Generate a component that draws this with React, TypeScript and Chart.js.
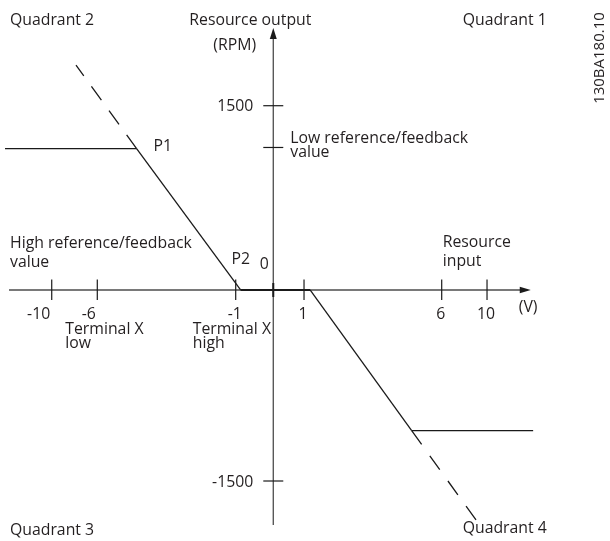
import React, { useEffect, useRef } from 'react';
import { Chart, registerables, LinearScale } from 'chart.js';

// ---- data (schematic units: volts on x, RPM on y) ----
const xTickValues = [-10, -6, -1, 1, 6, 10];
const xTickLabels = ['-10', '-6', '-1', '1', '6', '10'];
const yTickValues = [1500, -1500];
const yTickLabels = ['1500', '-1500'];
const lowRefValue = 1160;
const xAxisRange = [-13.75, 13.86];
const yAxisRange = [-1846, 2132];

const q2ClampX = [-14.1, -4.58];
const q2ClampY = [1150, 1150];
const slope2X = [-4.58, -0.87];
const slope2Y = [1150, 0];
const deadX = [-0.87, 1.22];
const deadY = [0, 0];
const slope4X = [1.22, 4.91];
const slope4Y = [0, -1105];
const q4ClampX = [4.91, 14.07];
const q4ClampY = [-1105, -1105];
const extUpX = [-4.58, -7.87];
const extUpY = [1150, 1831];
const extDownX = [4.91, 9.03];
const extDownY = [-1105, -1806];

const toPoints = (xs: number[], ys: number[]) => xs.map((x, i) => ({ x, y: ys[i] }));

// ---- piecewise linear (schematic) scale ----
class PiecewiseScale extends LinearScale {
  static id = 'piecewise';
  static defaults = {};
  knots(): number[][] {
    return (this.options as any).knots;
  }
  toDecimal(v: number): number {
    const k = this.knots();
    let i = 0;
    if (v <= k[0][0]) i = 0;
    else if (v >= k[k.length - 1][0]) i = k.length - 2;
    else {
      while (i < k.length - 2 && v > k[i + 1][0]) i++;
    }
    const [v0, d0] = k[i];
    const [v1, d1] = k[i + 1];
    return d0 + ((v - v0) / (v1 - v0)) * (d1 - d0);
  }
  fromDecimal(d: number): number {
    const k = this.knots();
    let i = 0;
    if (d <= k[0][1]) i = 0;
    else if (d >= k[k.length - 1][1]) i = k.length - 2;
    else {
      while (i < k.length - 2 && d > k[i + 1][1]) i++;
    }
    const [v0, d0] = k[i];
    const [v1, d1] = k[i + 1];
    return v0 + ((d - d0) / (d1 - d0)) * (v1 - v0);
  }
  getPixelForValue(value: number) {
    return this.getPixelForDecimal(this.toDecimal(value));
  }
  getValueForPixel(pixel: number) {
    return this.fromDecimal(this.getDecimalForPixel(pixel));
  }
}

Chart.register(...registerables, PiecewiseScale as any);

const FONT = '15.8px "Open Sans", "Noto Sans", sans-serif';
const TEXT = '#231f20';
const AXIS = '#4d4d4d';
const LINE = '#1a1a1a';

const diagramPlugin = {
  id: 'diagram',
  beforeDatasetsDraw(chart: any) {
    const { ctx, scales } = chart;
    const X = (v: number) => scales.x.getPixelForValue(v);
    const Y = (v: number) => scales.y.getPixelForValue(v);
    const ox = X(0);
    const oy = Y(0);
    ctx.save();
    ctx.strokeStyle = AXIS;
    ctx.fillStyle = LINE;
    ctx.lineWidth = 1.3;
    // x axis
    const xEnd = X(xAxisRange[1]);
    ctx.beginPath();
    ctx.moveTo(X(xAxisRange[0]), oy);
    ctx.lineTo(xEnd - 8, oy);
    ctx.stroke();
    ctx.beginPath();
    ctx.moveTo(xEnd, oy);
    ctx.lineTo(xEnd - 11, oy - 3.2);
    ctx.lineTo(xEnd - 11, oy + 3.2);
    ctx.closePath();
    ctx.fill();
    // y axis
    const yEnd = Y(yAxisRange[1]);
    ctx.beginPath();
    ctx.moveTo(ox, Y(yAxisRange[0]));
    ctx.lineTo(ox, yEnd + 8);
    ctx.stroke();
    ctx.beginPath();
    ctx.moveTo(ox, yEnd);
    ctx.lineTo(ox - 3.5, yEnd + 11);
    ctx.lineTo(ox + 3.5, yEnd + 11);
    ctx.closePath();
    ctx.fill();
    // x ticks
    ctx.strokeStyle = LINE;
    ctx.lineWidth = 1.2;
    xTickValues.forEach((v) => {
      const px = X(v);
      ctx.beginPath();
      ctx.moveTo(px, oy - 10.5);
      ctx.lineTo(px, oy + 10);
      ctx.stroke();
    });
    // y ticks
    [...yTickValues, lowRefValue].forEach((v) => {
      const py = Y(v);
      ctx.beginPath();
      ctx.moveTo(ox - 10, py);
      ctx.lineTo(ox + 10, py);
      ctx.stroke();
    });
    // origin tick
    ctx.lineWidth = 2;
    ctx.beginPath();
    ctx.moveTo(ox, oy - 7);
    ctx.lineTo(ox, oy + 7);
    ctx.stroke();
    ctx.restore();
  },
  afterDatasetsDraw(chart: any) {
    const { ctx, scales, chartArea } = chart;
    const X = (v: number) => scales.x.getPixelForValue(v);
    const Y = (v: number) => scales.y.getPixelForValue(v);
    const ox = X(0);
    const oy = Y(0);
    ctx.save();
    ctx.fillStyle = TEXT;
    ctx.font = FONT;
    ctx.textBaseline = 'middle';
    const t = (s: string, x: number, y: number, align: CanvasTextAlign = 'left') => {
      ctx.textAlign = align;
      ctx.fillText(s, x, y);
    };
    // tick labels
    xTickValues.forEach((v, i) => {
      if (v <= -6) t(xTickLabels[i], X(v) - 1.5, oy + 25, 'right');
      else t(xTickLabels[i], X(v) - 1, oy + 25, 'center');
    });
    yTickValues.forEach((v, i) => t(yTickLabels[i], ox - 20, Y(v) + 1, 'right'));
    t('0', ox - 9, oy - 25, 'center');
    // quadrant labels
    const L = chartArea.left + 10;
    t('Quadrant 2', L, 20);
    t('Quadrant 1', X(6) + 21, 20);
    t('Quadrant 3', L, 530);
    t('Quadrant 4', X(6) + 21, 528);
    // axis titles
    t('Resource output', ox - 84, 20);
    t('(RPM)', ox - 60, 45);
    t('Resource', X(6) + 1, oy - 47);
    t('input', X(6) + 1, oy - 28);
    t('(V)', X(xAxisRange[1]) - 12, oy + 18);
    // point labels
    t('P1', X(slope2X[0]) + 17, Y(slope2Y[0]) - 2);
    t('P2', X(slope2X[1]) - 9, oy - 30);
    t('Low reference/feedback', ox + 17, Y(lowRefValue) - 9);
    t('value', ox + 17, Y(lowRefValue) + 5);
    t('High reference/feedback', L, oy - 46);
    t('value', L, oy - 27);
    t('Terminal X', X(-6) - 32, oy + 40);
    t('low', X(-6) - 32, oy + 54);
    t('Terminal X', X(-1) - 43, oy + 40);
    t('high', X(-1) - 43, oy + 54);
    // document code, rotated
    ctx.save();
    ctx.translate(600, 58);
    ctx.rotate(-Math.PI / 2);
    ctx.font = '15px "Open Sans", "Noto Sans", sans-serif';
    t('130BA180.10', 0, 0, 'center');
    ctx.restore();
    ctx.restore();
  },
};

export default function App() {
  const ref = useRef<HTMLCanvasElement>(null);
  useEffect(() => {
    if (!ref.current) return;
    const base = {
      borderColor: LINE,
      borderWidth: 1.3,
      pointRadius: 0,
      showLine: true,
      fill: false,
      tension: 0,
    };
    const chart = new Chart(ref.current, {
      type: 'scatter',
      data: {
        datasets: [
          { ...base, label: 'Q2 clamp', data: toPoints(q2ClampX, q2ClampY) },
          { ...base, label: 'P1-P2', data: toPoints(slope2X, slope2Y) },
          { ...base, label: 'Dead band', borderWidth: 2.2, data: toPoints(deadX, deadY) },
          { ...base, label: 'Q4 slope', data: toPoints(slope4X, slope4Y) },
          { ...base, label: 'Q4 clamp', data: toPoints(q4ClampX, q4ClampY) },
          { ...base, label: 'Ext up', borderDash: [17, 13], data: toPoints(extUpX, extUpY) },
          { ...base, label: 'Ext down', borderDash: [17, 14], data: toPoints(extDownX, extDownY) },
        ],
      },
      options: {
        animation: false,
        responsive: false,
        events: [],
        layout: { padding: 0 },
        plugins: { legend: { display: false }, tooltip: { enabled: false } },
        scales: {
          x: {
            type: 'piecewise' as any,
            display: false,
            min: -15,
            max: 15,
            knots: [
              [-10, 0.0848],
              [-6, 0.1595],
              [-1, 0.3864],
              [0, 0.448],
              [1, 0.4984],
              [6, 0.7241],
              [10, 0.7984],
            ],
          } as any,
          y: {
            type: 'piecewise' as any,
            display: false,
            min: -2000,
            max: 2200,
            knots: [
              [-1500, 0.1109],
              [0, 0.464],
              [1500, 0.8046],
            ],
          } as any,
        },
      },
      plugins: [diagramPlugin],
    });
    return () => chart.destroy();
  }, []);
  return (
    <div style={{ position: 'fixed', left: 0, top: 0, width: 610, height: 541, background: '#fff' }}>
      <canvas ref={ref} width={610} height={541} />
    </div>
  );
}
